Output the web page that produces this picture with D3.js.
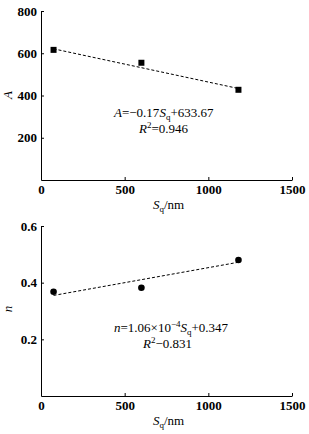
<!DOCTYPE html>
<html>
<head>
<meta charset="utf-8">
<style>
  body { margin: 0; background: #fff; font-family: 'Liberation Serif', 'Times New Roman', serif; }
  .axis path, .axis line { stroke: #000; stroke-width: 1; }
  .axis text { font-family: 'Liberation Serif', serif; font-size: 13px; font-weight: bold; fill: #000; }
  .eq { font-size: 13px; fill: #000; }
</style>
</head>
<body>
<script src="https://cdn.jsdelivr.net/npm/d3@7/dist/d3.min.js"></script>
<script>

var width = 309;
var height = 434;

// measured Sq values (nm)
var sq = [75, 600, 1180];
var aValues = [616, 555, 427];
var nValues = [0.368, 0.382, 0.48];

var xTicks = [0, 500, 1000, 1500];
var aTicks = [200, 400, 600, 800];
var nTicks = [0.2, 0.4, 0.6];

// fitted lines, from the printed equations
var aFit = { slope: -0.17, intercept: 633.67 };
var nFit = { slope: 1.06e-4, intercept: 0.347 };

var svg = d3.select('body').append('svg')
  .attr('width', width)
  .attr('height', height);

var x = d3.scaleLinear().domain([0, 1500]).range([41, 292]);

function panel (opts) {
  var y = d3.scaleLinear().domain(opts.domain).range(opts.range);

  svg.append('g')
    .attr('class', 'axis')
    .attr('transform', 'translate(0,' + opts.range[0] + ')')
    .call(d3.axisBottom(x).tickValues(xTicks).tickSizeInner(-3).tickSizeOuter(0).tickPadding(5).tickFormat(d3.format('d')));

  svg.append('g')
    .attr('class', 'axis')
    .attr('transform', 'translate(41,0)')
    .call(d3.axisLeft(y).tickValues(opts.ticks).tickSizeInner(-3).tickSizeOuter(0).tickPadding(4).tickFormat(opts.fmt));

  // x title
  var xt = svg.append('text')
    .attr('x', 153).attr('y', opts.range[0] + 29)
    .attr('font-size', 13);
  xt.append('tspan').attr('font-style', 'italic').text('S');
  xt.append('tspan').attr('font-size', 9).attr('dy', 3).text('q');
  xt.append('tspan').attr('dy', -3).text('/nm');

  // y title
  svg.append('text')
    .attr('transform', 'translate(12,' + opts.ytitleY + ') rotate(-90)')
    .attr('text-anchor', 'middle')
    .attr('font-size', 13)
    .attr('font-style', 'italic')
    .text(opts.ytitle);

  // fit line
  var ext = d3.extent(sq);
  svg.append('line')
    .attr('x1', x(ext[0])).attr('y1', y(opts.fit.intercept + opts.fit.slope * ext[0]))
    .attr('x2', x(ext[1])).attr('y2', y(opts.fit.intercept + opts.fit.slope * ext[1]))
    .attr('stroke', '#000')
    .attr('stroke-width', 1)
    .attr('stroke-dasharray', '3,2');

  return y;
}

var yA = panel({ domain: [0, 800], range: [180, 11], ticks: aTicks, fmt: d3.format('d'),
  ytitle: 'A', ytitleY: 95, fit: aFit });

svg.selectAll('rect.pt')
  .data(sq)
  .enter().append('rect')
  .attr('class', 'pt')
  .attr('x', function (d) { return x(d) - 3; })
  .attr('y', function (d, i) { return yA(aValues[i]) - 3; })
  .attr('width', 6)
  .attr('height', 6)
  .attr('fill', '#000');

var yN = panel({ domain: [0, 0.6], range: [396, 226], ticks: nTicks, fmt: d3.format('.1f'),
  ytitle: 'n', ytitleY: 309, fit: nFit });

svg.selectAll('circle.pt')
  .data(sq)
  .enter().append('circle')
  .attr('class', 'pt')
  .attr('cx', function (d) { return x(d); })
  .attr('cy', function (d, i) { return yN(nValues[i]); })
  .attr('r', 3.3)
  .attr('fill', '#000');

// equation labels
var e1 = svg.append('text').attr('class', 'eq').attr('x', 114).attr('y', 117);
e1.append('tspan').attr('font-style', 'italic').text('A');
e1.append('tspan').text('=\u22120.17');
e1.append('tspan').attr('font-style', 'italic').text('S');
e1.append('tspan').attr('font-size', 9).attr('dy', 3).text('q');
e1.append('tspan').attr('dy', -3).text('+633.67');

var e2 = svg.append('text').attr('class', 'eq').attr('x', 139).attr('y', 133);
e2.append('tspan').attr('font-style', 'italic').text('R');
e2.append('tspan').attr('font-size', 9).attr('dy', -5).text('2');
e2.append('tspan').attr('dy', 5).text('=0.946');

var e3 = svg.append('text').attr('class', 'eq').attr('x', 114).attr('y', 332);
e3.append('tspan').attr('font-style', 'italic').text('n');
e3.append('tspan').text('=1.06\u00d710');
e3.append('tspan').attr('font-size', 9).attr('dy', -5).text('\u22124');
e3.append('tspan').attr('font-style', 'italic').attr('dy', 5).text('S');
e3.append('tspan').attr('font-size', 9).attr('dy', 3).text('q');
e3.append('tspan').attr('dy', -3).text('+0.347');

var e4 = svg.append('text').attr('class', 'eq').attr('x', 143).attr('y', 348);
e4.append('tspan').attr('font-style', 'italic').text('R');
e4.append('tspan').attr('font-size', 9).attr('dy', -5).text('2');
e4.append('tspan').attr('dy', 5).text('\u22120.831');

</script>
</body>
</html>
